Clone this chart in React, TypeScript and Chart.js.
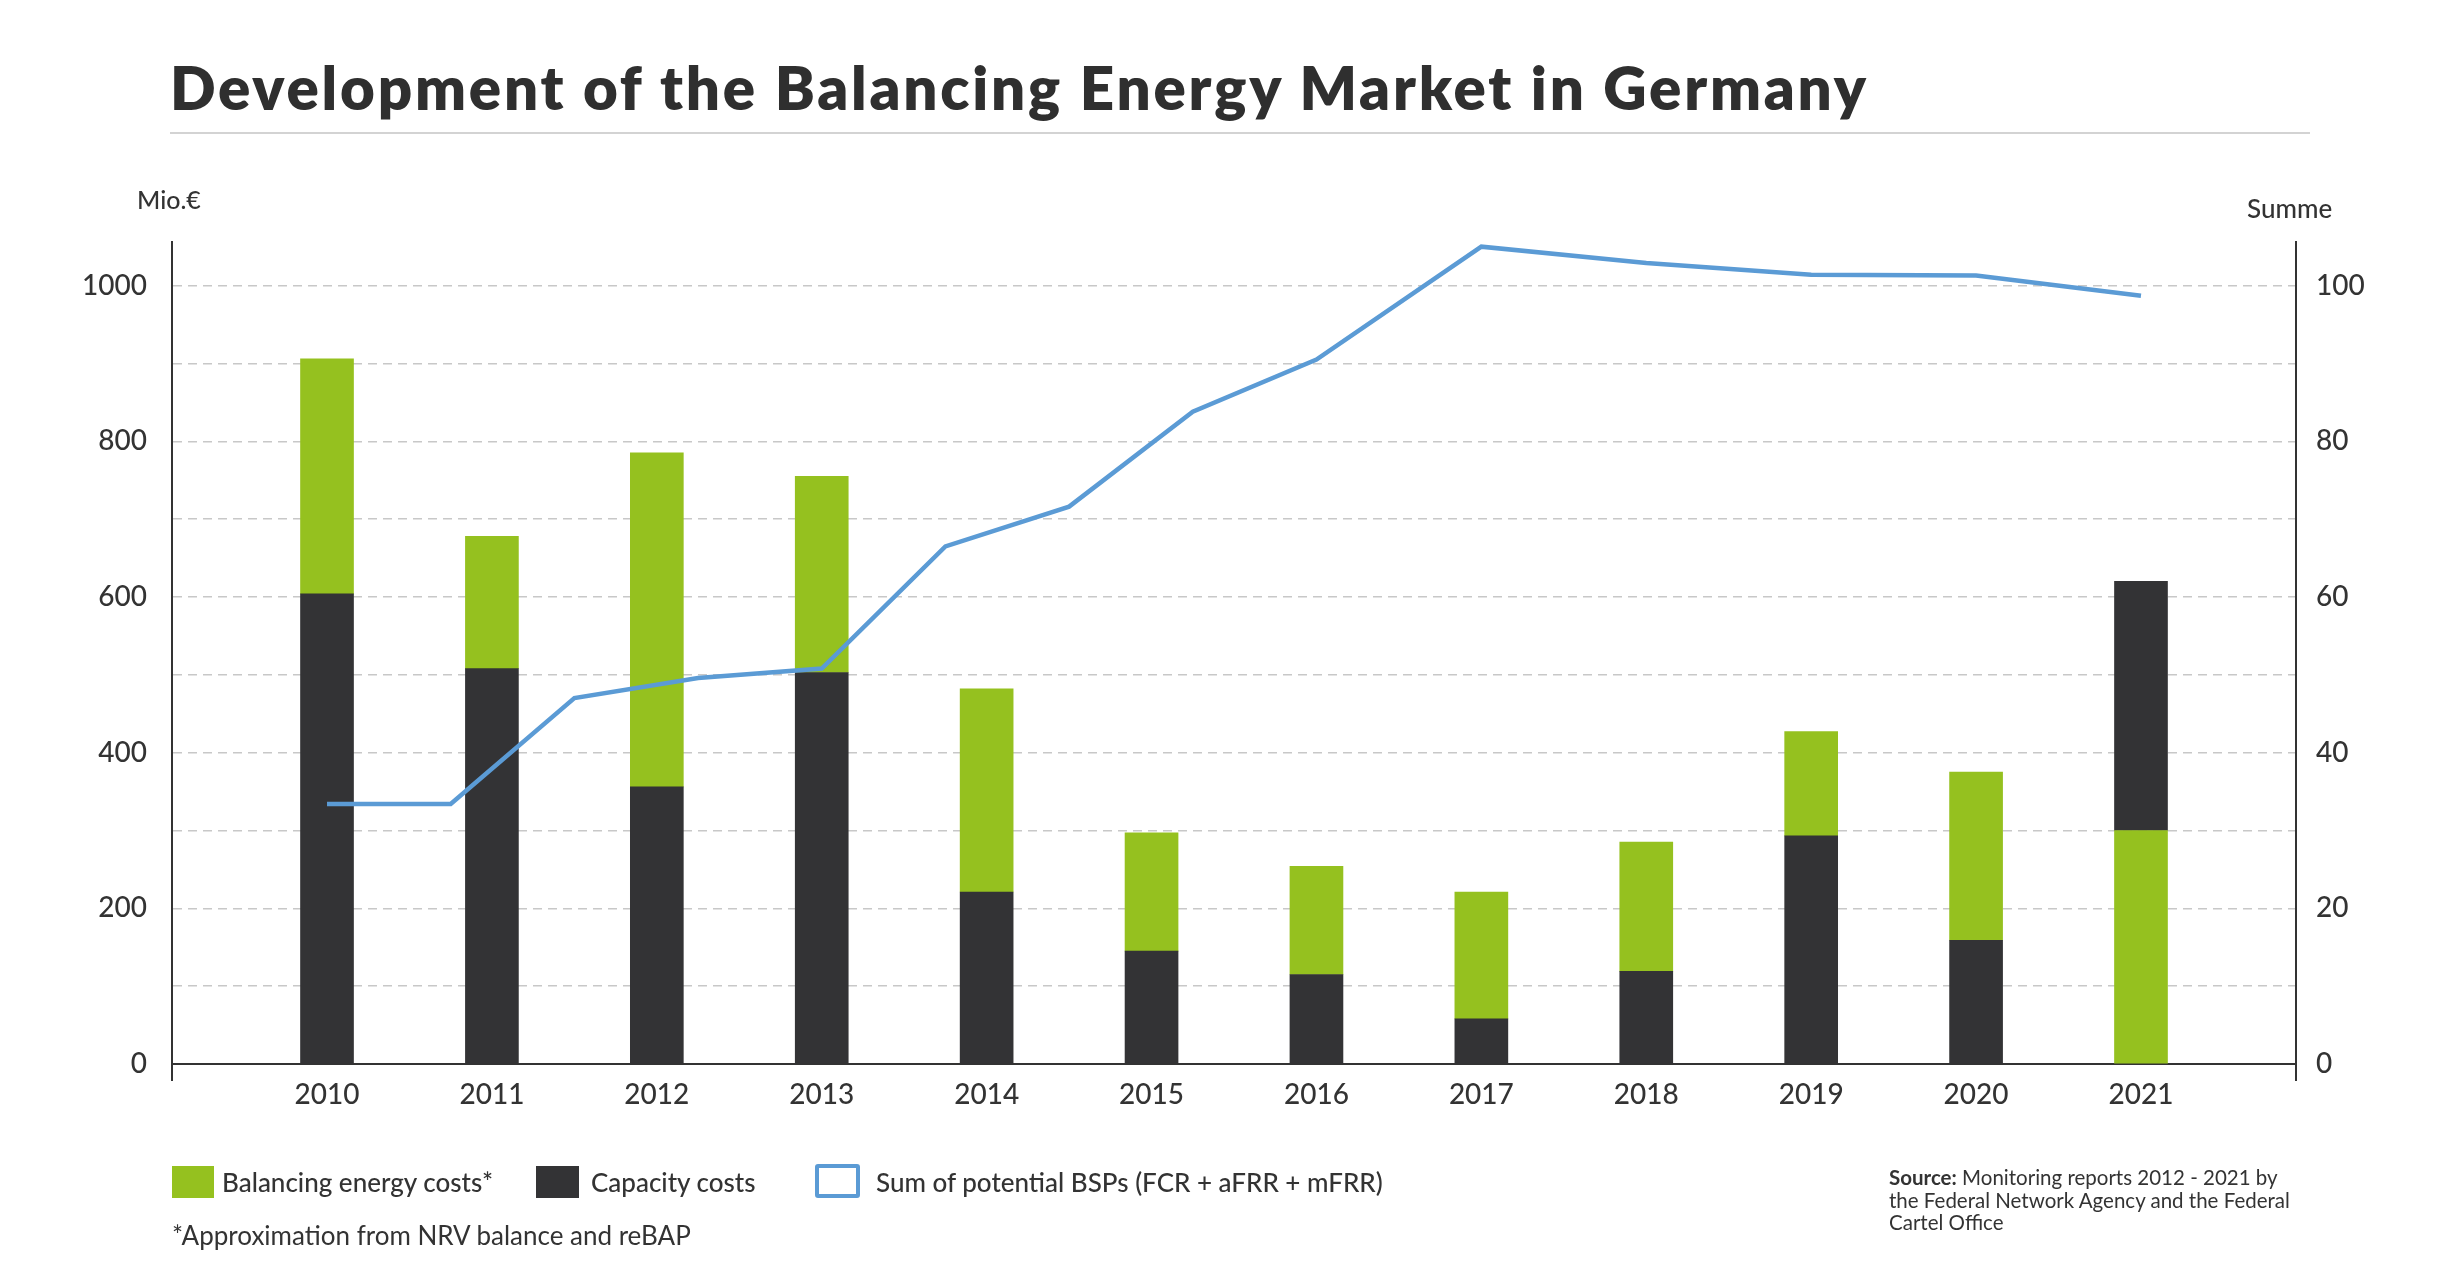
import React, { useEffect, useRef } from 'react';
import { Chart, registerables } from 'chart.js';

Chart.register(...registerables);

// ---------- data ----------
const years = [2010, 2011, 2012, 2013, 2014, 2015, 2016, 2017, 2018, 2019, 2020, 2021];
const balancingEnergyCosts = [302, 170, 429, 252, 261, 152, 139, 163, 166, 134, 216, 300];
const capacityCosts = [604, 508, 356, 503, 221, 145, 115, 58, 119, 293, 159, 320];
// years in which capacity costs are stacked above the balancing energy costs
const capacityOnTopYears = [2021];

const bspX = [2010, 2010.75, 2011.5, 2012.25, 2013, 2013.75, 2014.5, 2015.25, 2016, 2017, 2018, 2019, 2020, 2021];
const bspSum = [33.4, 33.4, 47.0, 49.6, 50.8, 66.5, 71.6, 83.8, 90.5, 105.0, 102.9, 101.4, 101.3, 98.7];

const leftTicks = [0, 200, 400, 600, 800, 1000];
const rightTicks = [0, 20, 40, 60, 80, 100];

const TITLE = 'Development of the Balancing Energy Market in Germany';
const LEFT_UNIT = 'Mio.€';
const RIGHT_UNIT = 'Summe';
const LEGEND_ENERGY = 'Balancing energy costs*';
const LEGEND_CAPACITY = 'Capacity costs';
const LEGEND_BSP = 'Sum of potential BSPs (FCR + aFRR + mFRR)';
const FOOTNOTE = '*Approximation from NRV balance and reBAP';

// ---------- style ----------
const GREEN = '#95c11f';
const DARK = '#333335';
const BLUE = '#5b9bd5';
const TEXT = '#333333';
const FONT = 'Lato, "Open Sans", sans-serif';

const W = 2440;
const H = 1262;

const axisExtensionPlugin = {
  id: 'axisExtension',
  afterDraw(chart: any) {
    const { ctx, chartArea } = chart;
    ctx.save();
    ctx.strokeStyle = TEXT;
    ctx.lineWidth = 2;
    ctx.beginPath();
    ctx.moveTo(chartArea.left, chartArea.bottom);
    ctx.lineTo(chartArea.left, chartArea.bottom + 17);
    ctx.moveTo(chartArea.right, chartArea.bottom);
    ctx.lineTo(chartArea.right, chartArea.bottom + 17);
    ctx.stroke();
    ctx.restore();
  },
};

export default function App() {
  const canvasRef = useRef<HTMLCanvasElement | null>(null);

  useEffect(() => {
    const canvas = canvasRef.current;
    if (!canvas) return;
    const yMax = 1056;
    const y2Max = yMax / 10;

    const capBottom = years.map((x, i) => ({ x, y: capacityOnTopYears.includes(x) ? null : capacityCosts[i] }));
    const capTop = years.map((x, i) => ({ x, y: capacityOnTopYears.includes(x) ? capacityCosts[i] : null }));
    const energy = years.map((x, i) => ({ x, y: balancingEnergyCosts[i] }));
    const bsp = bspX.map((x, i) => ({ x, y: bspSum[i] }));

    const tickFont = { family: FONT, size: 28, weight: '500' as any };

    const chart = new Chart(canvas, {
      type: 'bar',
      data: {
        datasets: [
          {
            type: 'line',
            label: LEGEND_BSP,
            data: bsp as any,
            yAxisID: 'y2',
            xAxisID: 'x',
            borderColor: BLUE,
            borderWidth: 4.5,
            pointRadius: 0,
            tension: 0,
            fill: false,
            order: 0,
          } as any,
          {
            label: LEGEND_CAPACITY,
            data: capBottom as any,
            backgroundColor: DARK,
            barThickness: 53,
            yAxisID: 'y',
            order: 1,
          },
          {
            label: LEGEND_ENERGY,
            data: energy as any,
            backgroundColor: GREEN,
            barThickness: 53,
            yAxisID: 'y',
            order: 2,
          },
          {
            label: LEGEND_CAPACITY + ' ',
            data: capTop as any,
            backgroundColor: DARK,
            barThickness: 53,
            yAxisID: 'y',
            order: 3,
          },
        ],
      },
      options: {
        animation: false,
        responsive: false,
        devicePixelRatio: 1,
        layout: { padding: { top: 242, left: 0, right: 0, bottom: 0 } },
        plugins: {
          legend: { display: false },
          tooltip: { enabled: false },
        },
        scales: {
          x: {
            type: 'linear',
            min: 2009.06,
            max: 2021.94,
            stacked: true,
            offset: false,
            grid: { display: false, drawTicks: false },
            border: { display: true, color: TEXT, width: 2 },
            ticks: {
              stepSize: 1,
              includeBounds: false,
              padding: 14,
              color: TEXT,
              font: tickFont,
              callback: (v: any) => (years.includes(Number(v)) ? String(v) : ''),
              maxRotation: 0,
              autoSkip: false,
            },
            afterFit: (s: any) => {
              s.height = H - 1064;
            },
          },
          y: {
            type: 'linear',
            position: 'left',
            stacked: true,
            min: 0,
            max: yMax,
            grid: {
              display: true,
              drawTicks: false,
              color: (c: any) => (c.tick && c.tick.value === 0 ? 'rgba(0,0,0,0)' : '#c8c8c8'),
              lineWidth: 1.5,
            },
            border: { display: true, color: TEXT, width: 2, dash: [9, 6] as any },
            ticks: {
              stepSize: 100,
              includeBounds: false,
              padding: 25,
              color: TEXT,
              font: tickFont,
              autoSkip: false,
              callback: (v: any) => (leftTicks.includes(Number(v)) ? String(v) : ''),
            },
            afterFit: (s: any) => {
              s.width = 172;
            },
          },
          y2: {
            type: 'linear',
            position: 'right',
            min: 0,
            max: y2Max,
            grid: { display: false, drawTicks: false },
            border: { display: true, color: TEXT, width: 2 },
            ticks: {
              stepSize: 10,
              includeBounds: false,
              padding: 20,
              color: TEXT,
              font: tickFont,
              autoSkip: false,
              callback: (v: any) => (rightTicks.includes(Number(v)) ? String(v) : ''),
            },
            afterFit: (s: any) => {
              s.width = W - 2296;
            },
          },
        },
      } as any,
      plugins: [axisExtensionPlugin],
    });
    return () => chart.destroy();
  }, []);

  const abs = (style: React.CSSProperties): React.CSSProperties => ({ position: 'absolute', margin: 0, ...style });

  return (
    <div style={{ position: 'absolute', left: 0, top: 0, width: W, height: H, overflow: 'hidden', background: '#fff', fontFamily: FONT, color: TEXT }}>
      <canvas ref={canvasRef} width={W} height={H} style={{ position: 'absolute', left: 0, top: 0, width: W, height: H }} />
      <div style={abs({ left: 170, top: 57, fontSize: 60, lineHeight: '60px', fontWeight: 800, letterSpacing: '2.8px', whiteSpace: 'nowrap', color: '#2f2f2f' })}>{TITLE}</div>
      <div style={abs({ left: 170, top: 132, width: 2140, height: 2, background: '#d3d3d3' })} />
      <div style={abs({ left: 137, top: 187, fontSize: 25, lineHeight: '24px', fontWeight: 500, whiteSpace: 'nowrap' })}>{LEFT_UNIT}</div>
      <div style={abs({ left: 2247, top: 196, fontSize: 26, lineHeight: '25px', fontWeight: 500, whiteSpace: 'nowrap' })}>{RIGHT_UNIT}</div>

      <div style={abs({ left: 172, top: 1166, width: 42, height: 32, background: GREEN })} />
      <div style={abs({ left: 222, top: 1166, height: 32, lineHeight: '32px', fontSize: 26, fontWeight: 500, whiteSpace: 'nowrap' })}>{LEGEND_ENERGY}</div>
      <div style={abs({ left: 536, top: 1166, width: 43, height: 32, background: DARK })} />
      <div style={abs({ left: 591, top: 1166, height: 32, lineHeight: '32px', fontSize: 26, fontWeight: 500, whiteSpace: 'nowrap' })}>{LEGEND_CAPACITY}</div>
      <div style={abs({ left: 815, top: 1164, width: 45, height: 34, boxSizing: 'border-box', border: `4px solid ${BLUE}`, borderRadius: 3, background: '#fff' })} />
      <div style={abs({ left: 876, top: 1166, height: 32, lineHeight: '32px', fontSize: 26, fontWeight: 500, whiteSpace: 'nowrap' })}>{LEGEND_BSP}</div>

      <div style={abs({ left: 172, top: 1220, height: 30, lineHeight: '30px', fontSize: 26, whiteSpace: 'nowrap' })}>{FOOTNOTE}</div>

      <div style={abs({ left: 1889, top: 1166, width: 440, fontSize: 20.5, lineHeight: '22.5px' })}>
        <b>Source:</b> Monitoring reports 2012 - 2021 by<br />
        the Federal Network Agency and the Federal<br />
        Cartel Office
      </div>
    </div>
  );
}
